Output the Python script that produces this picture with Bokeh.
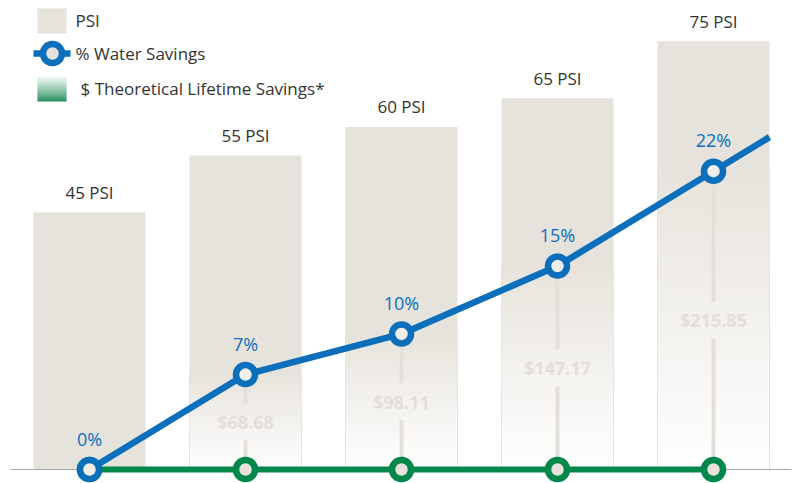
import numpy as np
from bokeh.plotting import figure
from bokeh.models import Range1d, ColumnDataSource
from bokeh.core.properties import value
from bokeh.embed import file_html
from bokeh.resources import INLINE

# ---------------- data ----------------
categories = ["45 PSI", "55 PSI", "60 PSI", "65 PSI", "75 PSI"]
psi = [45, 55, 60, 65, 75]
water_savings_pct = [0, 7, 10, 15, 22]
lifetime_savings_usd = [0.0, 68.68, 98.11, 147.17, 215.85]
pct_labels = ["0%", "7%", "10%", "15%", "22%"]
usd_labels = ["", "$68.68", "$98.11", "$147.17", "$215.85"]
legend_labels = ["PSI", "% Water Savings", "$ Theoretical Lifetime Savings*"]

# ---------------- layout / style ----------------
W, H = 799, 483
CAT_PX = 156.0           # px between category centres
X0 = -89.0 / CAT_PX      # first category centre 89px from frame left
BASE = 14.0              # baseline px above frame bottom
PCT_PX = 13.56           # px per % water savings
PSI_PX = 5.71            # px per PSI
USD_PX = 1.376           # px per $
BAR_W = 112.0 / CAT_PX

GRAY_BAR = "#e6e2dc"
BLUE = "#0b6fbc"
GREEN = "#00884a"
LABEL_GRAY = "#e3dfd8"
TEXT = "#333333"
FONT = value("Open Sans")


def ix(px):
    """image x pixel -> x data"""
    return px / CAT_PX + X0


def iy(py):
    """image y pixel -> % data"""
    return (H - py) / PCT_PX - BASE / PCT_PX


def mix(c1, c2, t):
    a = np.array([int(c1[i:i + 2], 16) for i in (1, 3, 5)], float)
    b = np.array([int(c2[i:i + 2], 16) for i in (1, 3, 5)], float)
    c = a + (b - a) * t
    return "#%02x%02x%02x" % tuple(int(round(v)) for v in c)


p = figure(width=W, height=H, output_backend="svg", toolbar_location=None,
           x_range=Range1d(X0, X0 + W / CAT_PX),
           y_range=Range1d(-BASE / PCT_PX, (H - BASE) / PCT_PX),
           x_axis_location=None, y_axis_location=None, min_border=0)
p.extra_y_ranges = {
    "psi": Range1d(-BASE / PSI_PX, (H - BASE) / PSI_PX),
    "usd": Range1d(-BASE / USD_PX, (H - BASE) / USD_PX),
}
p.xgrid.visible = False
p.ygrid.visible = False
p.outline_line_color = None
p.background_fill_color = "white"
p.border_fill_color = "white"

xs = np.arange(len(categories), dtype=float)

# PSI bars
p.vbar(x=xs, top=psi, bottom=0, width=BAR_W, y_range_name="psi",
       fill_color=GRAY_BAR, line_color=None)

# savings bars with vertical gradient (built from slices)
N = 60
L, R, B, T, C = [], [], [], [], []
for xi, v in zip(xs, lifetime_savings_usd):
    if v <= 0:
        continue
    edges = np.linspace(0, v, N + 1)
    for j in range(N):
        f = (j + 0.5) / N
        L.append(xi - BAR_W / 2)
        R.append(xi + BAR_W / 2)
        B.append(edges[j])
        T.append(min(edges[j + 1] + v / N * 0.6, v))
        C.append(mix("#fefefe", "#e7e3dc", f ** 1.1))
p.quad(left=L, right=R, bottom=B, top=T, fill_color=C, line_color=None,
       y_range_name="usd")
sx0, sx1, sy0, sy1 = [], [], [], []
for xi, v in zip(xs, lifetime_savings_usd):
    if v <= 0:
        continue
    for side in (-1, 1):
        sx0.append(xi + side * BAR_W / 2)
        sx1.append(xi + side * BAR_W / 2)
        sy0.append(0)
        sy1.append(v)
p.segment(x0=sx0, y0=sy0, x1=sx1, y1=sy1, line_color="#d6ebe3",
          line_width=1, y_range_name="usd")

# baseline axis
p.segment(x0=[ix(10)], y0=[0], x1=[ix(791)], y1=[0], line_color="#a8a8a8",
          line_width=1)

# green savings baseline
zeros = [0.0] * len(categories)
p.line(xs, zeros, line_color=GREEN, line_width=6)

# vertical gray connectors with gap for $ label
GAP = 18.5 / PCT_PX
vx0, vy0, vx1, vy1 = [], [], [], []
for xi, pc in zip(xs, water_savings_pct):
    if pc <= 0:
        continue
    mid = pc / 2.0
    vx0 += [xi, xi]
    vx1 += [xi, xi]
    vy0 += [0, mid + GAP]
    vy1 += [mid - GAP, pc]
p.segment(x0=vx0, y0=vy0, x1=vx1, y1=vy1, line_color="#e4e0d9", line_width=4)

# $ labels
usd_src = ColumnDataSource(dict(
    x=xs, y=[pc / 2.0 for pc in water_savings_pct], t=usd_labels))
p.text(x="x", y="y", text="t", source=usd_src, text_align="center",
       text_baseline="middle", text_color=LABEL_GRAY, text_font=FONT,
       text_font_size="18px", text_font_style="bold")

# green markers
p.scatter(xs, zeros, size=19, fill_color="#e6e2db", line_color=GREEN,
          line_width=6.5)

# blue line, extended to the right edge of the last bar
ext_x = xs[-1] + BAR_W / 2
slope = (water_savings_pct[-1] - water_savings_pct[-2]) / (xs[-1] - xs[-2])
ext_y = water_savings_pct[-1] + slope * (ext_x - xs[-1])
p.line(list(xs) + [ext_x], list(water_savings_pct) + [ext_y],
       line_color=BLUE, line_width=6.5)
p.scatter(xs, water_savings_pct, size=19, fill_color="#f0eeea",
          line_color=BLUE, line_width=6.5)

# % labels
pct_src = ColumnDataSource(dict(
    x=xs, y=[pc + 31 / PCT_PX for pc in water_savings_pct], t=pct_labels))
p.text(x="x", y="y", text="t", source=pct_src, text_align="center",
       text_baseline="middle", text_color=BLUE, text_font=FONT,
       text_font_size="18px")

# PSI labels
psi_src = ColumnDataSource(dict(
    x=xs, y=[v + 20 / PSI_PX for v in psi], t=categories))
p.text(x="x", y="y", text="t", source=psi_src, y_range_name="psi",
       text_align="center", text_baseline="middle", text_color=TEXT,
       text_font=FONT, text_font_size="17px")

# ---------------- legend ----------------
p.quad(left=[ix(37)], right=[ix(66)], bottom=[iy(33)], top=[iy(8)],
       fill_color=GRAY_BAR, line_color=None)
p.line([ix(33), ix(70)], [iy(53), iy(53)], line_color=BLUE, line_width=6.5)
p.scatter([ix(52)], [iy(53)], size=19, fill_color="#e6e2db", line_color=BLUE,
          line_width=6.5)
NL = 25
lg_edges = np.linspace(iy(101), iy(76), NL + 1)
p.quad(left=[ix(37)] * NL, right=[ix(66)] * NL, bottom=lg_edges[:-1],
       top=[min(e + (lg_edges[1] - lg_edges[0]) * 0.6, lg_edges[-1]) for e in lg_edges[1:]],
       fill_color=[mix("#1c8956", "#f6fbf8", ((k + 0.5) / NL) ** 0.8) for k in range(NL)],
       line_color=None)
leg_src = ColumnDataSource(dict(
    x=[ix(75), ix(75), ix(80)], y=[iy(20), iy(53), iy(88)], t=legend_labels))
p.text(x="x", y="y", text="t", source=leg_src, text_align="left",
       text_baseline="middle", text_color=TEXT, text_font=FONT,
       text_font_size="17px")

open("out.html", "w").write(file_html(p, INLINE))
